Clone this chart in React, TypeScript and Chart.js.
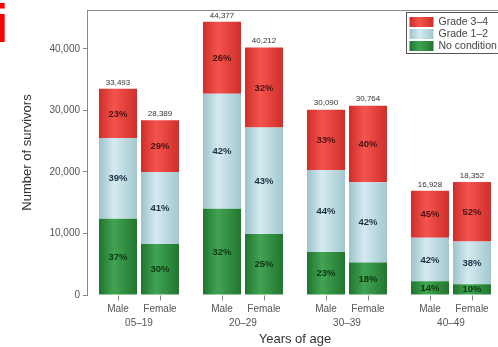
import React, { useEffect, useRef } from "react";
import { Chart, registerables } from "chart.js";

Chart.register(...registerables);

const FONT = "'Liberation Sans', Arial, Helvetica, sans-serif";

// Categories
const ageGroups = ["05–19", "20–29", "30–39", "40–49"];
const sexLabels = ["Male", "Female"];

// Survivors (counts) per age group
const maleNoCondition = [12400, 14000, 7000, 2250];
const maleGrade12 = [13100, 18700, 13300, 7050];
const maleGrade34 = [7993, 11677, 9790, 7628];
const femaleNoCondition = [8300, 9900, 5300, 1750];
const femaleGrade12 = [11700, 17300, 13000, 6950];
const femaleGrade34 = [8389, 13012, 12464, 9652];

// Totals printed above bars
const maleTotals = [33493, 44377, 30090, 16928];
const femaleTotals = [28389, 40212, 30764, 18352];

// Percent labels inside segments
const malePctNoCondition = [37, 32, 23, 14];
const malePctGrade12 = [39, 42, 44, 42];
const malePctGrade34 = [23, 26, 33, 45];
const femalePctNoCondition = [30, 25, 18, 10];
const femalePctGrade12 = [41, 43, 42, 38];
const femalePctGrade34 = [29, 32, 40, 52];

// Y axis ticks
const yTicks = [0, 10000, 20000, 30000, 40000];
const yMax = 46300;

type Kind = "no" | "g12" | "g34";

const flat: Record<Kind, string> = {
  g34: "#e63b36",
  g12: "#b8d8e0",
  no: "#2f8f3f",
};
const grad: Record<Kind, [string, string, string]> = {
  g34: ["#cc2e2a", "#f5544d", "#cf2f2b"],
  g12: ["#9dc2cb", "#d4eaf0", "#a3c7cf"],
  no: ["#21752f", "#41a452", "#22762f"],
};
const textColor: Record<Kind, string> = {
  g34: "#4a1010",
  g12: "#1b2e44",
  no: "#0d3512",
};
const legendItems: { label: string; kind: Kind }[] = [
  { label: "Grade 3–4", kind: "g34" },
  { label: "Grade 1–2", kind: "g12" },
  { label: "No condition", kind: "no" },
];

export default function App() {
  const canvasRef = useRef<HTMLCanvasElement | null>(null);

  useEffect(() => {
    const canvas = canvasRef.current;
    if (!canvas) return;

    const mk = (label: string, stack: string, kind: Kind, data: number[], pct: number[], totals?: number[]) => ({
      label,
      stack,
      kind,
      data,
      pct,
      totals,
      backgroundColor: () => flat[kind],
      borderWidth: 0,
      categoryPercentage: 84 / 104,
      barPercentage: 38 / 42,
    });

    const datasets: any[] = [
      mk("No condition", "Male", "no", maleNoCondition, malePctNoCondition),
      mk("Grade 1–2", "Male", "g12", maleGrade12, malePctGrade12),
      mk("Grade 3–4", "Male", "g34", maleGrade34, malePctGrade34, maleTotals),
      mk("No condition", "Female", "no", femaleNoCondition, femalePctNoCondition),
      mk("Grade 1–2", "Female", "g12", femaleGrade12, femalePctGrade12),
      mk("Grade 3–4", "Female", "g34", femaleGrade34, femalePctGrade34, femaleTotals),
    ];

    const decor = {
      id: "decor",
      beforeDatasetsDraw(chart: any) {
        const ctx = chart.ctx;
        chart.data.datasets.forEach((ds: any, di: number) => {
          const meta = chart.getDatasetMeta(di);
          meta.data.forEach((el: any) => {
            const { x, width } = el.getProps(["x", "width"], true);
            const g = ctx.createLinearGradient(x - width / 2, 0, x + width / 2, 0);
            const c = grad[ds.kind as Kind];
            g.addColorStop(0, c[0]);
            g.addColorStop(0.4, c[1]);
            g.addColorStop(1, c[2]);
            el.options.backgroundColor = g;
          });
        });
      },
      afterDatasetsDraw(chart: any) {
        const ctx = chart.ctx;
        ctx.save();
        chart.data.datasets.forEach((ds: any, di: number) => {
          const meta = chart.getDatasetMeta(di);
          meta.data.forEach((el: any, i: number) => {
            const { x, y, base } = el.getProps(["x", "y", "base"], true);
            ctx.font = `bold 9.5px ${FONT}`;
            ctx.fillStyle = textColor[ds.kind as Kind];
            ctx.textAlign = "center";
            ctx.textBaseline = "middle";
            ctx.fillText(`${ds.pct[i]}%`, x, (y + base) / 2 + 0.5);
            if (ds.totals) {
              ctx.font = `8px ${FONT}`;
              ctx.fillStyle = "#333";
              ctx.fillText(ds.totals[i].toLocaleString("en-US"), x, y - 6.5);
            }
            if (ds.kind === "no") {
              ctx.strokeStyle = "#888";
              ctx.lineWidth = 1;
              ctx.beginPath();
              ctx.moveTo(Math.round(x) + 0.5, base + 1);
              ctx.lineTo(Math.round(x) + 0.5, base + 6);
              ctx.stroke();
              ctx.font = `10px ${FONT}`;
              ctx.fillStyle = "#555";
              ctx.fillText(ds.stack === "Male" ? sexLabels[0] : sexLabels[1], x, base + 14.5);
            }
          });
        });
        ctx.restore();
      },
      afterDraw(chart: any) {
        const ctx = chart.ctx;
        const ca = chart.chartArea;
        ctx.save();
        // top frame line
        ctx.strokeStyle = "#888";
        ctx.lineWidth = 1;
        ctx.beginPath();
        ctx.moveTo(ca.left, ca.top + 0.5);
        ctx.lineTo(ca.right, ca.top + 0.5);
        ctx.stroke();
        // legend
        const bx = 406.5, by = 12.5, bw = 94, bh = 41;
        ctx.fillStyle = "#fff";
        ctx.fillRect(bx, by, bw, bh);
        ctx.strokeStyle = "#555";
        ctx.strokeRect(bx, by, bw, bh);
        legendItems.forEach((it, k) => {
          const sy = by + 4.5 + k * 12;
          const g = ctx.createLinearGradient(bx + 3, 0, bx + 27, 0);
          const c = grad[it.kind];
          g.addColorStop(0, c[0]);
          g.addColorStop(0.4, c[1]);
          g.addColorStop(1, c[2]);
          ctx.fillStyle = g;
          ctx.fillRect(bx + 3, sy, 24, 10);
          ctx.font = `10.5px ${FONT}`;
          ctx.fillStyle = "#444";
          ctx.textAlign = "left";
          ctx.textBaseline = "middle";
          ctx.fillText(it.label, bx + 32, sy + 5);
        });
        // panel letter
        ctx.font = `bold 54px ${FONT}`;
        ctx.fillStyle = "#ff0000";
        ctx.textAlign = "left";
        ctx.textBaseline = "alphabetic";
        ctx.fillText("i", -6.5, 42);
        ctx.restore();
      },
    };

    const chart = new Chart(canvas, {
      type: "bar",
      data: { labels: ageGroups, datasets },
      plugins: [decor],
      options: {
        animation: false,
        responsive: false,
        devicePixelRatio: 1,
        layout: { padding: { top: 10, left: 0, right: 0, bottom: 0 } },
        plugins: {
          legend: { display: false },
          tooltip: { enabled: false },
        },
        scales: {
          x: {
            stacked: true,
            grid: { display: false, drawTicks: false },
            border: { display: false },
            ticks: { font: { family: FONT, size: 10 }, color: "#555", padding: 22 },
            title: {
              display: true,
              text: "Years of age",
              font: { family: FONT, size: 13 },
              color: "#333",
              padding: { top: 0, bottom: 0 },
            },
            afterFit: (s: any) => {
              s.height = 52;
            },
          },
          y: {
            stacked: true,
            min: 0,
            max: yMax,
            afterBuildTicks: (s: any) => {
              s.ticks = yTicks.map((v) => ({ value: v }));
            },
            grid: { display: true, drawOnChartArea: false, drawTicks: true, tickLength: 4, color: "#888" },
            border: { display: true, color: "#888" },
            ticks: {
              font: { family: FONT, size: 10 },
              color: "#555",
              padding: 3,
              callback: (v: any) => Number(v).toLocaleString("en-US"),
            },
            title: {
              display: true,
              text: "Number of survivors",
              font: { family: FONT, size: 13 },
              color: "#333",
              padding: { top: 20, bottom: 0 },
            },
            afterFit: (s: any) => {
              s.width = 87;
            },
          },
        },
      } as any,
    });

    return () => chart.destroy();
  }, []);

  return (
    <div
      style={{
        position: "fixed",
        left: 0,
        top: 0,
        width: 498,
        height: 347,
        overflow: "hidden",
        background: "#fff",
      }}
    >
      <canvas ref={canvasRef} width={503} height={347} style={{ display: "block" }} />
    </div>
  );
}
